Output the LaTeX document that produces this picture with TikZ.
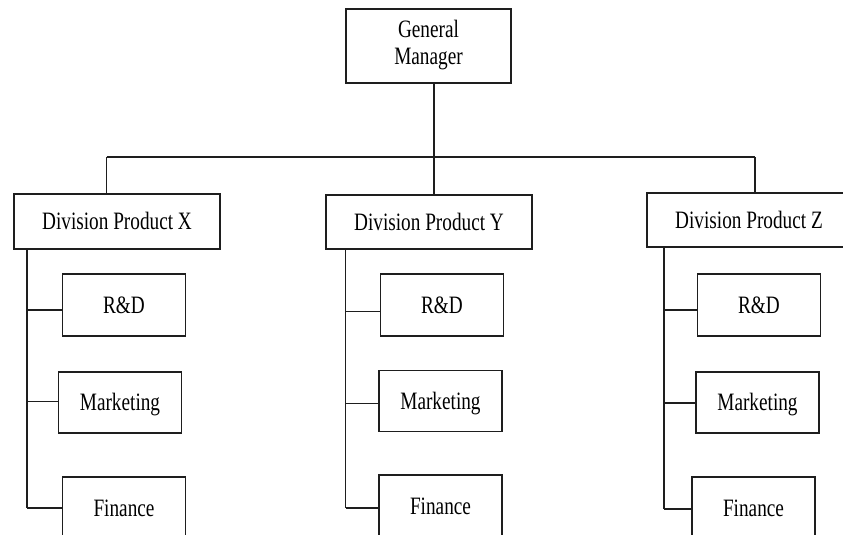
\documentclass[tikz,border=0pt]{standalone}
\usepackage{fontspec}
\setmainfont{Liberation Serif}
\usetikzlibrary{calc}
\definecolor{ink}{HTML}{1E1E1E}
\newcommand{\boxtext}[1]{\scalebox{0.77}[1]{#1}}
\tikzset{
  orgbox/.style={draw=ink, line width=1.8pt, fill=white, rectangle, inner sep=0pt,
    font=\fontsize{25}{27}\selectfont, text=black},
  single/.style={text height=16.5pt, text depth=0pt},
  wire/.style={draw=ink, line width=1.8pt},
}
\begin{document}
\begin{tikzpicture}[x=1pt,y=-1pt]
\useasboundingbox[fill=white] (0,0) rectangle (843,535);

% top of the chart
\node[orgbox, minimum width=165pt, minimum height=74pt] (gm) at (428.5,46)
  {\boxtext{\begin{tabular}{@{}c@{}}General\\Manager\end{tabular}}};

% divisions
\node[orgbox, single, minimum width=206pt, minimum height=55pt] (dx) at (117,221.5) {\boxtext{Division Product X}};
\node[orgbox, single, minimum width=206pt, minimum height=54pt] (dy) at (429,222) {\boxtext{Division Product Y}};
\node[orgbox, single, minimum width=204pt, minimum height=54pt] (dz) at (749,220) {\boxtext{Division Product Z}};

% departments, division X
\node[orgbox, single, minimum width=123pt, minimum height=62pt] (rx) at (124,305) {\boxtext{R\&D}};
\node[orgbox, single, minimum width=123pt, minimum height=61pt] (mx) at (120,402.5) {\boxtext{Marketing}};
\node[orgbox, single, minimum width=123pt, minimum height=62pt] (fx) at (124,508) {\boxtext{Finance}};
% departments, division Y
\node[orgbox, single, minimum width=123pt, minimum height=62pt] (ry) at (442,305) {\boxtext{R\&D}};
\node[orgbox, single, minimum width=123pt, minimum height=61pt] (my) at (440.5,401) {\boxtext{Marketing}};
\node[orgbox, single, minimum width=123pt, minimum height=62pt] (fy) at (440.5,506) {\boxtext{Finance}};
% departments, division Z
\node[orgbox, single, minimum width=123pt, minimum height=62pt] (rz) at (759,305) {\boxtext{R\&D}};
\node[orgbox, single, minimum width=123pt, minimum height=61pt] (mz) at (757.5,402.5) {\boxtext{Marketing}};
\node[orgbox, single, minimum width=123pt, minimum height=62pt] (fz) at (753.5,508) {\boxtext{Finance}};

% bus between manager and divisions
\coordinate (busl) at (106.5,157);
\coordinate (busm) at (434,157);
\coordinate (busr) at (755,157);
\draw[wire] (gm.south -| busm) -- (busm);
\draw[wire] (busl) -- (busr);
\draw[wire] (busl) -- (busl |- dx.north);
\draw[wire] (busm) -- (busm |- dy.north);
\draw[wire] (busr) -- (busr |- dz.north);

% spines of the divisions
\coordinate (sx) at (27,0);
\coordinate (sy) at (345.5,0);
\coordinate (sz) at (664,0);
\draw[wire] (sx |- dx.south) -- (sx |- fx.west);
\draw[wire] (sy |- dy.south) -- ([yshift=-2pt]sy |- fy.west);
\draw[wire] (sz |- dz.south) -- ([yshift=-1pt]sz |- fz.west);

% branches to the departments
\draw[wire] ([yshift=-5pt]sx |- rx.west) -- ([yshift=-5pt]rx.west);
\draw[wire] ([yshift=1pt]sx |- mx.west) -- ([yshift=1pt]mx.west);
\draw[wire] (sx |- fx.west) -- (fx.west);
\draw[wire] ([yshift=-6.5pt]sy |- ry.west) -- ([yshift=-6.5pt]ry.west);
\draw[wire] ([yshift=-2.5pt]sy |- my.west) -- ([yshift=-2.5pt]my.west);
\draw[wire] ([yshift=-2pt]sy |- fy.west) -- ([yshift=-2pt]fy.west);
\draw[wire] ([yshift=-5pt]sz |- rz.west) -- ([yshift=-5pt]rz.west);
\draw[wire] ([yshift=-0.5pt]sz |- mz.west) -- ([yshift=-0.5pt]mz.west);
\draw[wire] ([yshift=-1pt]sz |- fz.west) -- ([yshift=-1pt]fz.west);
\end{tikzpicture}
\end{document}
